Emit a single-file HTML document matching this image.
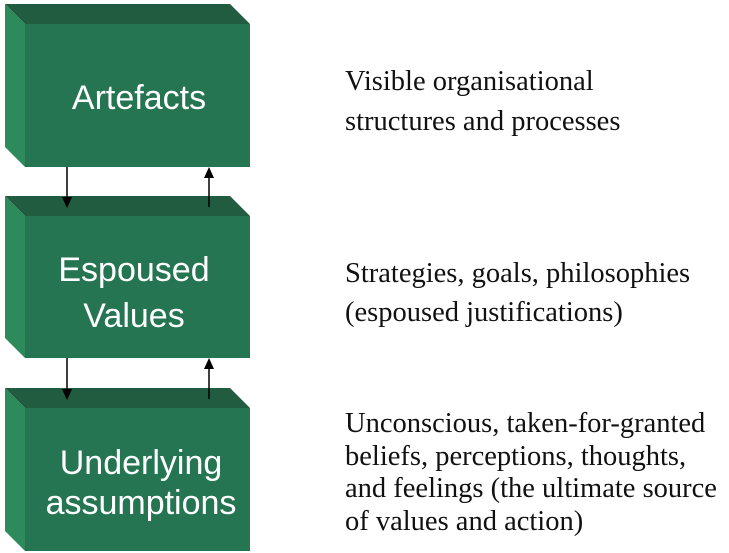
<!DOCTYPE html>
<html><head><style>
body{margin:0;width:729px;height:553px;background:#fff;position:relative;overflow:hidden}
.t{position:absolute;left:345px;font-family:"Liberation Serif",serif;font-size:28.5px;color:#111;white-space:nowrap}
</style></head><body>
<svg width="729" height="553" style="position:absolute;left:0;top:0">
<polygon points="5,4 230,4 250,24 25,24" fill="#215c40"/>
<polygon points="5,4 25,24 25,167 5,147" fill="#2d8a5b"/>
<rect x="25" y="24" width="225" height="143" fill="#267552"/>
<polygon points="5,196 230,196 250,216 25,216" fill="#215c40"/>
<polygon points="5,196 25,216 25,358 5,338" fill="#2d8a5b"/>
<rect x="25" y="216" width="225" height="142" fill="#267552"/>
<polygon points="5,388 230,388 250,408 25,408" fill="#215c40"/>
<polygon points="5,388 25,408 25,551 5,531" fill="#2d8a5b"/>
<rect x="25" y="408" width="225" height="143" fill="#267552"/>
<g stroke="#000" stroke-width="1.5">
<line x1="67" y1="167" x2="67" y2="198"/><line x1="209" y1="207" x2="209" y2="176"/>
<line x1="67" y1="358" x2="67" y2="390"/><line x1="209" y1="399" x2="209" y2="367"/>
</g>
<g fill="#000">
<polygon points="62,197 72,197 67,208"/><polygon points="204,178 214,178 209,167"/>
<polygon points="62,389 72,389 67,400"/><polygon points="204,369 214,369 209,358"/>
</g>
<g font-family="Liberation Sans,sans-serif" font-size="34" fill="#fff" text-anchor="middle">
<text x="139" y="109">Artefacts</text>
<text x="134" y="281">Espoused</text>
<text x="134" y="327">Values</text>
<text x="141" y="474">Underlying</text>
<text x="141" y="514">assumptions</text>
</g>
</svg>
<div class="t" style="top:62px;line-height:40px">Visible organisational<br>structures and processes</div>
<div class="t" style="top:254px;line-height:39px">Strategies, goals, philosophies<br>(espoused justifications)</div>
<div class="t" style="top:408px;line-height:32.5px">Unconscious, taken-for-granted<br>beliefs, perceptions, thoughts,<br>and feelings (the ultimate source<br>of values and action)</div>
</body></html>
